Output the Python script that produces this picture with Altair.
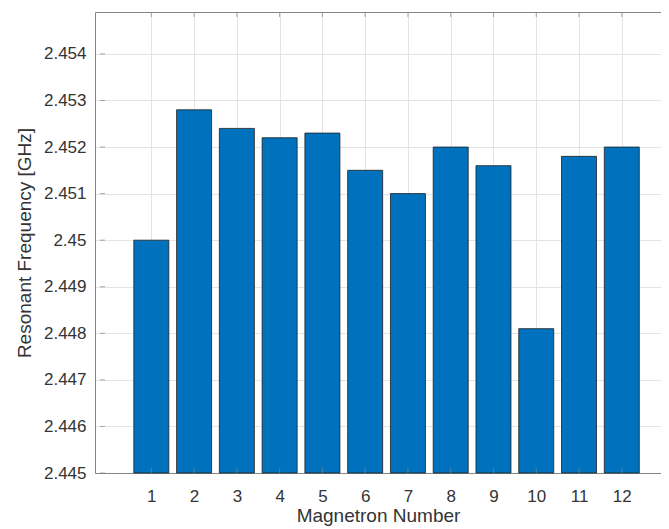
import altair as alt
import pandas as pd

magnetrons = [1, 2, 3, 4, 5, 6, 7, 8, 9, 10, 11, 12]
freqs = [2.4500, 2.4528, 2.4524, 2.4522, 2.4523, 2.4515, 2.4510, 2.4520, 2.4516, 2.4481, 2.4518, 2.4520]
y_ticks = [2.445, 2.446, 2.447, 2.448, 2.449, 2.450, 2.451, 2.452, 2.453, 2.454]
x_domain = [-0.2, 12.8]
y_domain = [2.445, 2.4549]

df = pd.DataFrame({"n": magnetrons, "f": freqs})
df_xt = pd.DataFrame({"n": magnetrons})
df_yt = pd.DataFrame({"v": y_ticks})

W, H = 566, 461
AX = "#858585"
TXT = "#333333"
FONT = "Liberation Sans"

xs = alt.Scale(domain=x_domain, nice=False, zero=False)
ys = alt.Scale(domain=y_domain, nice=False, zero=False)

y_axis = alt.Axis(
    values=y_ticks, format=".3~f", title="Resonant Frequency [GHz]",
    labelFontSize=17, titleFontSize=19, labelFont=FONT, titleFont=FONT,
    labelColor=TXT, titleColor=TXT, titleFontWeight="normal",
    ticks=False, tickSize=0, labelPadding=9, titlePadding=9,
    grid=True, gridColor="#e4e4e4", gridWidth=1,
    domainColor=AX, domainWidth=1)

bars = alt.Chart(df).mark_bar(size=35, color="#0072BD", stroke="#1f1f1f", strokeWidth=0.8).encode(
    x=alt.X("n:Q", scale=xs, axis=alt.Axis(
        values=magnetrons, format="d", orient="bottom", title="Magnetron Number",
        labelFontSize=17, titleFontSize=19, labelFont=FONT, titleFont=FONT,
        labelColor=TXT, titleColor=TXT, titleFontWeight="normal",
        ticks=False, tickSize=0, labelPadding=15, titlePadding=2,
        grid=True, gridColor="#e4e4e4", gridWidth=1,
        domainColor=AX, domainWidth=1)),
    y=alt.Y("f:Q", scale=ys, axis=y_axis),
    y2=alt.datum(y_domain[0]),
)

top_ticks = alt.Chart(df_xt).mark_tick(orient="vertical", size=5, thickness=1, yOffset=2.5, color=AX).encode(
    x=alt.X("n:Q", scale=xs, axis=alt.Axis(orient="top", labels=False, ticks=False, grid=False,
                                          domain=True, domainColor=AX, domainWidth=1, title=None)),
    y=alt.datum(y_domain[1], scale=ys),
)

bottom_ticks = alt.Chart(df_xt).mark_tick(orient="vertical", size=5, thickness=1, yOffset=-2.5, color=AX).encode(
    x=alt.X("n:Q", scale=xs, axis=None),
    y=alt.datum(y_domain[0], scale=ys),
)

left_ticks = alt.Chart(df_yt).mark_tick(orient="horizontal", size=5, thickness=1, xOffset=2.5, color=AX).encode(
    x=alt.datum(x_domain[0], scale=xs, axis=None),
    y=alt.Y("v:Q", scale=ys),
)

chart = alt.layer(bars, bottom_ticks, left_ticks, top_ticks).resolve_axis(x="independent").properties(
    width=W, height=H,
    autosize=alt.AutoSizeParams(type="none"),
    padding={"left": 87, "top": 4, "right": 0, "bottom": 56},
    background="white",
).configure_view(strokeWidth=0)

chart.save("out.html", embed_options={"renderer": "svg", "actions": False})
